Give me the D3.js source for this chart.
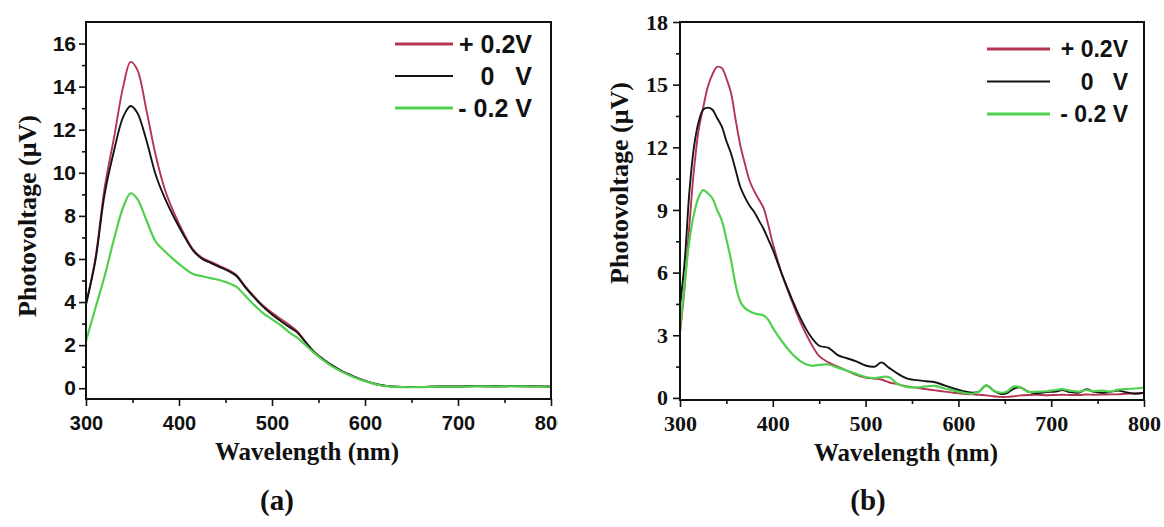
<!DOCTYPE html>
<html>
<head>
<meta charset="utf-8">
<script src="https://cdn.jsdelivr.net/npm/d3@7"></script>
<style>
  body { margin: 0; background: #fff; }
  svg { display: block; }
  .tick line { stroke: #111; stroke-width: 1.6; }
  text { fill: #111; }
</style>
</head>
<body>
<script>
// panel (a)
const wlA = [300, 310, 320, 330, 340, 348, 355, 365, 375, 385, 395, 405, 415, 425, 435, 445, 455, 462, 470, 480,
  490, 500, 510, 520, 527, 535, 545, 555, 565, 575, 585, 595, 605, 615, 625, 640, 660, 680, 700, 720, 740, 760, 780, 800];
const plusA = [3.9, 6.0, 9.3, 11.6, 14.0, 15.15, 14.8, 12.9, 10.8, 9.2, 8.1, 7.2, 6.45, 6.05, 5.85, 5.65, 5.45, 5.25, 4.8, 4.3,
  3.85, 3.5, 3.2, 2.9, 2.65, 2.2, 1.7, 1.35, 1.05, 0.8, 0.6, 0.42, 0.27, 0.16, 0.1, 0.06, 0.06, 0.08, 0.08, 0.1, 0.09, 0.1, 0.09, 0.08];
const zeroA = [3.9, 5.9, 9.0, 11.0, 12.6, 13.1, 12.8, 11.5, 9.9, 8.8, 7.9, 7.1, 6.4, 6.0, 5.8, 5.6, 5.4, 5.2, 4.75, 4.25,
  3.8, 3.42, 3.1, 2.8, 2.6, 2.2, 1.7, 1.35, 1.05, 0.8, 0.6, 0.42, 0.27, 0.16, 0.1, 0.06, 0.06, 0.08, 0.08, 0.1, 0.09, 0.1, 0.09, 0.08];
const minusA = [2.2, 3.7, 5.2, 6.9, 8.4, 9.05, 8.8, 7.8, 6.8, 6.35, 5.95, 5.6, 5.3, 5.2, 5.1, 5.0, 4.85, 4.7, 4.35, 3.9,
  3.5, 3.2, 2.9, 2.55, 2.35, 2.05, 1.65, 1.3, 1.0, 0.77, 0.57, 0.4, 0.26, 0.15, 0.09, 0.05, 0.05, 0.07, 0.07, 0.09, 0.08, 0.09, 0.08, 0.08];

// panel (b)
const wlB = [300, 305, 310, 315, 320, 325, 330, 335, 340, 345, 350, 355, 360, 365, 370, 375, 380, 385, 390, 395,
  400, 410, 420, 430, 440, 450, 460, 470, 480, 490, 500, 510, 517, 525, 535, 545, 555, 565, 575, 585,
  595, 605, 615, 622, 630, 638, 645, 652, 660, 667, 675, 685, 695, 705, 712, 720, 730, 738, 745, 755,
  765, 772, 780, 790, 800];
const plusB = [3.1, 5.3, 8.2, 10.9, 12.8, 13.9, 14.9, 15.5, 15.85, 15.8, 15.3, 14.6, 13.3, 12.1, 11.2, 10.4, 9.9, 9.5, 9.1, 8.3,
  7.4, 5.9, 4.7, 3.6, 2.7, 2.0, 1.7, 1.5, 1.3, 1.1, 0.97, 0.92, 0.88, 0.75, 0.65, 0.55, 0.48, 0.42, 0.36, 0.3,
  0.25, 0.2, 0.17, 0.15, 0.12, 0.08, 0.05, 0.05, 0.08, 0.12, 0.14, 0.15, 0.13, 0.14, 0.15, 0.14, 0.14, 0.16, 0.15, 0.16,
  0.17, 0.17, 0.2, 0.22, 0.25];
const zeroB = [4.4, 6.5, 9.8, 12.0, 13.2, 13.8, 13.9, 13.8, 13.4, 13.0, 12.3, 11.7, 10.9, 10.1, 9.6, 9.2, 8.9, 8.5, 8.1, 7.6,
  7.1, 5.9, 4.8, 3.8, 3.0, 2.5, 2.4, 2.05, 1.9, 1.75, 1.55, 1.5, 1.7, 1.45, 1.15, 0.92, 0.85, 0.8, 0.75, 0.6,
  0.45, 0.32, 0.25, 0.3, 0.6, 0.35, 0.2, 0.22, 0.45, 0.5, 0.3, 0.22, 0.28, 0.3, 0.38, 0.28, 0.25, 0.42, 0.3, 0.25,
  0.3, 0.35, 0.28, 0.2, 0.25];
const minusB = [3.3, 5.5, 7.5, 8.8, 9.6, 9.95, 9.8, 9.55, 9.0, 8.5, 7.6, 6.6, 5.4, 4.6, 4.3, 4.15, 4.05, 4.0, 3.95, 3.75,
  3.35, 2.7, 2.15, 1.75, 1.55, 1.58, 1.6, 1.45, 1.3, 1.15, 1.0, 0.95, 1.0, 1.0, 0.65, 0.52, 0.5, 0.55, 0.58, 0.45,
  0.35, 0.25, 0.2, 0.3, 0.6, 0.35, 0.25, 0.3, 0.55, 0.5, 0.3, 0.3, 0.32, 0.38, 0.42, 0.35, 0.3, 0.38, 0.32, 0.35,
  0.3, 0.4, 0.42, 0.45, 0.5];

const legendLabels = ["+ 0.2V", "0   V", "- 0.2 V"];
const seriesColors = ["#b3354f", "#141414", "#4fd04f"];
const xTicks = [300, 400, 500, 600, 700, 800];
const xMinor = [350, 450, 550, 650, 750];
const yTicksA = [0, 2, 4, 6, 8, 10, 12, 14, 16];
const yMinorA = [1, 3, 5, 7, 9, 11, 13, 15];
const yTicksB = [0, 3, 6, 9, 12, 15, 18];
const yMinorB = [1.5, 4.5, 7.5, 10.5, 13.5, 16.5];

const svg = d3.select("body").append("svg")
  .attr("width", 1164)
  .attr("height", 527);

svg.append("defs").append("clipPath").attr("id", "clipA")
  .append("rect").attr("x", 0).attr("y", 0).attr("width", 558).attr("height", 527);

function drawPanel(cfg) {
  const g = svg.append("g");
  if (cfg.clip) g.attr("clip-path", "url(#" + cfg.clip + ")");

  const x = d3.scaleLinear().domain([300, 800]).range([cfg.left, cfg.right]);
  const y = d3.scaleLinear().domain(cfg.yDomain).range([cfg.bottom, cfg.top]);

  // curves
  const line = d3.line()
    .x((d) => x(d[0]))
    .y((d) => y(d[1]))
    .curve(d3.curveCatmullRom.alpha(0.5));

  cfg.series.forEach(function (vals, i) {
    g.append("path")
      .datum(cfg.wl.map((w, k) => [w, vals[k]]))
      .attr("fill", "none")
      .attr("stroke", seriesColors[i])
      .attr("stroke-width", i === 2 ? 2.2 : 1.9)
      .attr("d", line);
  });

  // frame
  g.append("rect")
    .attr("x", cfg.left).attr("y", cfg.top)
    .attr("width", cfg.right - cfg.left).attr("height", cfg.bottom - cfg.top)
    .attr("fill", "none").attr("stroke", "#111").attr("stroke-width", 2);

  // x axis
  const xAxis = g.append("g")
    .attr("transform", "translate(0," + cfg.bottom + ")")
    .call(d3.axisBottom(x).tickValues(xTicks).tickSize(7).tickPadding(cfg.xPad).tickSizeOuter(0));
  xAxis.select(".domain").remove();
  xAxis.selectAll("text")
    .style("font-family", cfg.tickFont)
    .style("font-weight", "bold")
    .style("font-size", cfg.tickSize + "px");

  const xMin = g.append("g")
    .attr("transform", "translate(0," + cfg.bottom + ")")
    .call(d3.axisBottom(x).tickValues(xMinor).tickSize(4).tickFormat(""));
  xMin.select(".domain").remove();

  // y axis
  const yAxis = g.append("g")
    .attr("transform", "translate(" + cfg.left + ",0)")
    .call(d3.axisLeft(y).tickValues(cfg.yTicks).tickSize(7).tickPadding(cfg.yPad).tickSizeOuter(0));
  yAxis.select(".domain").remove();
  yAxis.selectAll("text")
    .style("font-family", cfg.tickFont)
    .style("font-weight", "bold")
    .style("font-size", cfg.yTickSize + "px");

  const yMin = g.append("g")
    .attr("transform", "translate(" + cfg.left + ",0)")
    .call(d3.axisLeft(y).tickValues(cfg.yMinor).tickSize(4).tickFormat(""));
  yMin.select(".domain").remove();

  // axis titles
  g.append("text")
    .attr("x", cfg.xTitle[0]).attr("y", cfg.xTitle[1])
    .attr("text-anchor", "middle")
    .style("font-family", "'Liberation Serif', serif")
    .style("font-weight", "bold")
    .style("font-size", "25px")
    .text("Wavelength (nm)");

  g.append("text")
    .attr("transform", "translate(" + cfg.yTitle[0] + "," + cfg.yTitle[1] + ") rotate(-90)")
    .attr("text-anchor", "middle")
    .style("font-family", "'Liberation Serif', serif")
    .style("font-weight", "bold")
    .style("font-size", "26px")
    .text("Photovoltage (\u03bcV)");

  // legend
  const lg = g.append("g");
  legendLabels.forEach(function (lab, i) {
    const ly = cfg.legend.y0 + i * cfg.legend.dy;
    lg.append("line")
      .attr("x1", cfg.legend.x1).attr("x2", cfg.legend.x2)
      .attr("y1", ly).attr("y2", ly)
      .attr("stroke", seriesColors[i])
      .attr("stroke-width", i === 1 ? 2 : 3);
    lg.append("text")
      .attr("x", cfg.legend.tx).attr("y", ly)
      .attr("dy", "0.36em")
      .attr("text-anchor", "end")
      .style("white-space", "pre")
      .style("font-family", "'Liberation Sans', Arial, sans-serif")
      .style("font-weight", "bold")
      .style("font-size", cfg.legend.fs + "px")
      .text(lab);
  });

  // panel letter
  svg.append("text")
    .attr("x", cfg.letter[0]).attr("y", cfg.letter[1])
    .attr("text-anchor", "middle")
    .style("font-family", "'Liberation Serif', serif")
    .style("font-weight", "bold")
    .style("font-size", "29px")
    .text(cfg.letterText);
}

drawPanel({
  left: 86, right: 551, top: 22, bottom: 399,
  yDomain: [-0.5, 17],
  wl: wlA, series: [plusA, zeroA, minusA],
  yTicks: yTicksA, yMinor: yMinorA,
  tickFont: "'Liberation Sans', Arial, sans-serif", tickSize: 20, yTickSize: 21, xPad: 10, yPad: 3,
  xTitle: [307, 460], yTitle: [36, 216],
  legend: { x1: 395, x2: 453, tx: 532, y0: 44, dy: 32, fs: 25 },
  letter: [277, 510], letterText: "(a)",
  clip: "clipA"
});

drawPanel({
  left: 680, right: 1144, top: 22, bottom: 400,
  yDomain: [-0.1, 18],
  wl: wlB, series: [plusB, zeroB, minusB],
  yTicks: yTicksB, yMinor: yMinorB,
  tickFont: "'Liberation Serif', serif", tickSize: 22, yTickSize: 22, xPad: 8, yPad: 5,
  xTitle: [906, 461], yTitle: [628, 183],
  legend: { x1: 987, x2: 1050, tx: 1128, y0: 49, dy: 32.5, fs: 23 },
  letter: [868, 510], letterText: "(b)"
});
</script>
</body>
</html>
